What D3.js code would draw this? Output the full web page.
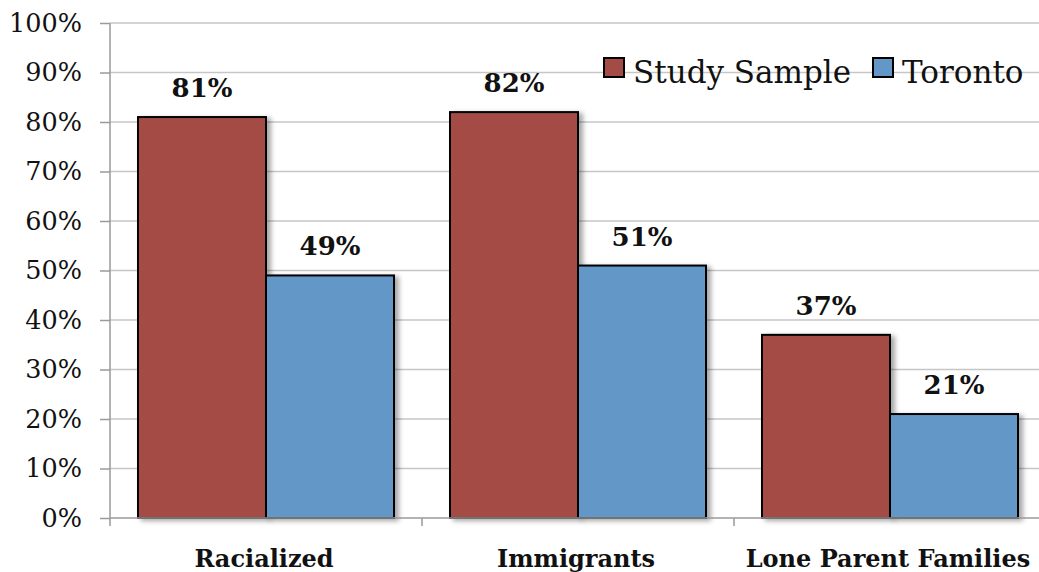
<!DOCTYPE html>
<html>
<head>
<meta charset="utf-8">
<script src="https://cdn.jsdelivr.net/npm/d3@7"></script>
<style>
  body { margin: 0; background: #fff; }
  svg { display: block; font-family: "DejaVu Serif", serif; }
</style>
</head>
<body>
<div id="chart"></div>
<script>
const categories = ["Racialized", "Immigrants", "Lone Parent Families"];
const seriesNames = ["Study Sample", "Toronto"];
const studySample = [81, 82, 37];
const toronto = [49, 51, 21];
const yTicks = [0, 10, 20, 30, 40, 50, 60, 70, 80, 90, 100];

const colors = { "Study Sample": "#A44B45", "Toronto": "#6297C8" };

const width = 1039;
const height = 572;

const rows = categories.map((c, i) => ({
  category: c,
  values: [
    { series: "Study Sample", value: studySample[i] },
    { series: "Toronto", value: toronto[i] },
  ],
}));

const svg = d3
  .select("#chart")
  .append("svg")
  .attr("width", width)
  .attr("height", height);

const defs = svg.append("defs");
const shadow = defs
  .append("filter")
  .attr("id", "shadow")
  .attr("x", "-10%")
  .attr("y", "-10%")
  .attr("width", "130%")
  .attr("height", "130%");
shadow
  .append("feDropShadow")
  .attr("dx", 4)
  .attr("dy", 2)
  .attr("stdDeviation", 2.5)
  .attr("flood-color", "#000")
  .attr("flood-opacity", 0.35);

const left = 110;
const bandW = 312;

const xScale = d3
  .scaleBand()
  .domain(categories)
  .range([left, left + bandW * categories.length]);

const xInner = d3
  .scaleBand()
  .domain(seriesNames)
  .range([28, bandW - 28]);

const yScale = d3.scaleLinear().domain([0, 100]).range([518, 23]);

// gridlines
svg
  .append("g")
  .selectAll("line")
  .data(yTicks.filter((d) => d > 0))
  .join("line")
  .attr("x1", left)
  .attr("x2", width)
  .attr("y1", (d) => yScale(d))
  .attr("y2", (d) => yScale(d))
  .attr("stroke", "#c6c6c6")
  .attr("stroke-width", 1.5);

// y axis
const yAxis = d3
  .axisLeft(yScale)
  .tickValues(yTicks)
  .tickSize(10)
  .tickPadding(18)
  .tickFormat((d) => d + "%");

const yg = svg
  .append("g")
  .attr("transform", `translate(${left}, 0)`)
  .call(yAxis);
yg.select(".domain").attr("stroke", "#9a9a9a").attr("stroke-width", 1.5)
  .attr("d", `M0,${yScale(100)}V${yScale(0) + 8}`);
yg.selectAll(".tick line").attr("stroke", "#9a9a9a").attr("stroke-width", 1.5);
yg.selectAll(".tick text")
  .attr("font-family", "DejaVu Serif, serif")
  .attr("font-size", 25.5)
  .attr("fill", "#111");

// bars
const groups = svg
  .append("g")
  .selectAll("g")
  .data(rows)
  .join("g")
  .attr("transform", (d) => `translate(${xScale(d.category)}, 0)`);

groups
  .selectAll("rect")
  .data((d) => d.values)
  .join("rect")
  .attr("x", (d) => xInner(d.series))
  .attr("y", (d) => yScale(d.value))
  .attr("width", xInner.bandwidth())
  .attr("height", (d) => yScale(0) - yScale(d.value))
  .attr("fill", (d) => colors[d.series])
  .attr("stroke", "#000")
  .attr("stroke-width", 2)
  .attr("filter", "url(#shadow)");

groups
  .selectAll("text")
  .data((d) => d.values)
  .join("text")
  .attr("x", (d) => xInner(d.series) + xInner.bandwidth() / 2)
  .attr("y", (d) => yScale(d.value) - 20)
  .attr("text-anchor", "middle")
  .attr("font-weight", "bold")
  .attr("font-size", 26)
  .attr("fill", "#111")
  .text((d) => d.value + "%");

// x axis
const xg = svg.append("g").attr("transform", `translate(0, ${yScale(0)})`);
xg.append("line")
  .attr("x1", left)
  .attr("x2", width)
  .attr("stroke", "#9a9a9a")
  .attr("stroke-width", 1.5);
xg.selectAll("line.tick")
  .data(categories)
  .join("line")
  .attr("class", "tick")
  .attr("x1", (d) => xScale(d) + xScale.bandwidth())
  .attr("x2", (d) => xScale(d) + xScale.bandwidth())
  .attr("y1", 0)
  .attr("y2", 8)
  .attr("stroke", "#9a9a9a")
  .attr("stroke-width", 1.5);
xg.selectAll("text")
  .data(categories)
  .join("text")
  .attr("x", (d) => xScale(d) + xScale.bandwidth() / 2 - 2)
  .attr("y", 49)
  .attr("text-anchor", "middle")
  .attr("font-weight", "bold")
  .attr("font-size", 24)
  .attr("fill", "#111")
  .text((d) => d);

// legend
const legend = svg.append("g");
const legendX = [604, 873];
seriesNames.forEach((s, i) => {
  legend
    .append("rect")
    .attr("x", legendX[i])
    .attr("y", 58)
    .attr("width", 20)
    .attr("height", 19)
    .attr("fill", colors[s])
    .attr("stroke", "#000")
    .attr("stroke-width", 2);
  legend
    .append("text")
    .attr("x", legendX[i] + 29)
    .attr("y", 83)
    .attr("font-size", 31)
    .attr("fill", "#111")
    .text(s);
});
</script>
</body>
</html>
